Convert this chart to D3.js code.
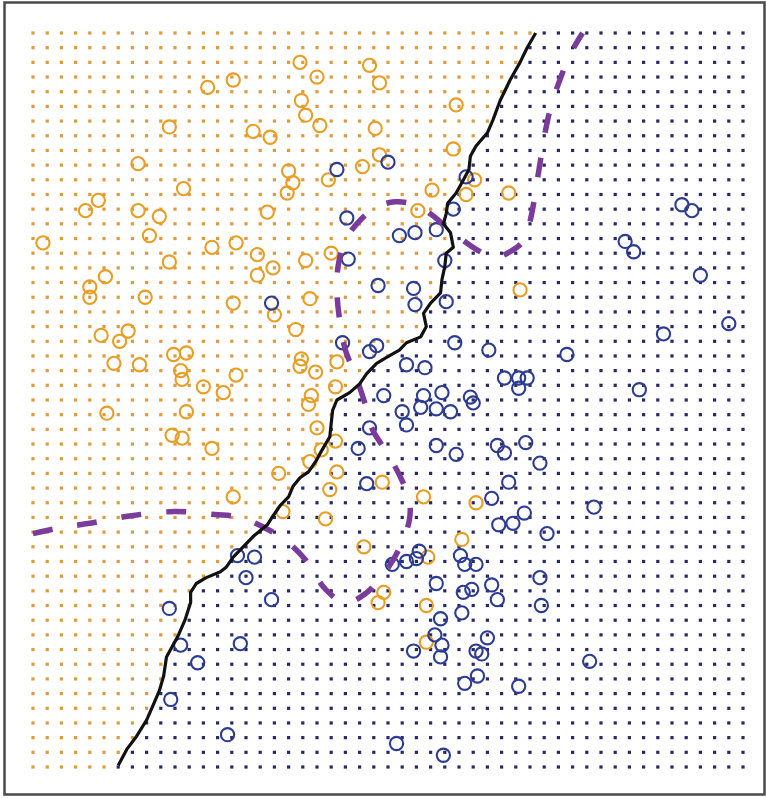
<!DOCTYPE html>
<html>
<head>
<meta charset="utf-8">
<script src="https://cdn.jsdelivr.net/npm/d3@7"></script>
<style>
  html, body { margin: 0; padding: 0; background: #fff; }
  svg { display: block; }
</style>
</head>
<body>
<svg id="chart" width="766" height="798"></svg>
<script>
// grid of evaluation points (grid units 0..50 on both axes)
const gridX = d3.range(0, 51);
const gridY = d3.range(0, 51);

// training points, class orange
const orangePts = [
  [12.3,46.3],[14.1,46.8],[9.6,43.6],[15.5,43.3],[16.7,42.9],[7.4,41.1],[10.6,39.4],[4.6,38.6],
  [3.7,37.9],[7.4,37.9],[8.9,37.5],[8.2,36.2],[16.5,37.8],[0.7,35.7],[12.6,35.4],[14.3,35.7],
  [15.8,34.9],[9.6,34.4],[15.8,33.5],[16.9,34.0],[5.1,33.4],[4.0,32.7],[4.0,32.0],[7.9,32.0],
  [14.1,31.6],[4.8,29.4],[6.7,29.7],[6.1,29.0],[5.7,27.5],[7.5,27.4],[9.9,28.1],[10.8,28.2],
  [10.4,27.0],[10.5,26.4],[14.3,26.7],[12.0,25.9],[13.4,25.5],[18.8,48.0],[20.0,47.0],[23.7,47.8],
  [24.4,46.6],[18.9,45.4],[19.2,44.4],[20.2,43.7],[24.1,43.5],[29.8,45.1],[29.6,42.1],[24.4,41.7],
  [23.2,40.9],[18.0,40.6],[18.3,39.8],[17.9,39.1],[20.8,40.0],[31.1,40.0],[30.5,39.0],[28.1,39.3],
  [33.5,39.1],[27.1,37.9],[21.0,35.0],[19.2,34.5],[19.5,31.9],[17.0,30.8],[18.5,29.8],[18.9,27.8],
  [18.8,27.3],[19.9,26.9],[21.4,27.6],[21.3,25.9],[19.6,25.3],[34.3,32.5],[5.2,24.1],[10.8,24.2],
  [9.8,22.6],[10.5,22.4],[12.6,21.7],[14.1,18.4],[19.4,24.7],[20.0,23.1],[21.3,22.2],[20.3,21.6],
  [19.5,20.8],[17.3,20.0],[21.4,20.1],[20.9,18.9],[20.6,16.9],[17.6,17.4],[24.6,19.4],[27.5,18.4],
  [23.3,15.0],[27.8,14.3],[30.2,15.5],[31.2,18.0],[24.7,11.9],[24.3,11.2],[27.7,11.0],[27.7,8.5]
];

// training points, class blue
const bluePts = [
  [21.4,40.7],[25.0,41.2],[22.1,37.4],[25.8,36.2],[26.9,36.4],[28.4,36.6],[29.6,38.0],[30.5,40.2],
  [22.2,34.6],[29.0,34.5],[24.3,32.8],[26.8,32.6],[26.9,31.5],[29.1,31.7],[16.8,31.6],[21.8,28.9],
  [23.7,28.3],[24.2,28.7],[26.3,27.4],[27.6,27.2],[29.7,28.9],[32.1,28.4],[33.2,26.5],[24.7,25.3],
  [27.5,25.3],[28.8,25.5],[30.8,25.2],[45.7,38.3],[46.4,37.9],[41.7,35.8],[42.3,35.1],[47.0,33.5],
  [49.0,30.2],[44.4,29.5],[37.6,28.1],[34.2,26.5],[34.8,26.5],[34.2,25.8],[42.7,25.7],[9.6,10.8],
  [14.4,14.4],[15.6,14.3],[15.0,12.9],[10.4,8.3],[14.6,8.4],[11.6,7.1],[9.7,4.6],[13.7,2.2],
  [16.8,11.4],[26.0,24.2],[26.3,23.3],[27.3,24.5],[28.4,24.4],[29.4,24.2],[31.0,24.8],[23.7,23.1],
  [22.9,21.7],[28.4,21.9],[29.8,21.3],[32.7,21.9],[23.5,19.3],[32.3,18.3],[32.8,16.5],[26.3,14.0],
  [27.0,14.2],[27.2,14.7],[25.3,13.8],[30.1,14.4],[30.4,13.8],[31.2,13.8],[28.4,12.5],[30.3,11.9],
  [30.9,12.1],[32.3,12.4],[32.7,11.4],[28.7,10.1],[30.2,10.5],[28.3,9.0],[28.8,8.3],[28.7,7.5],
  [26.8,7.9],[31.2,7.9],[31.6,7.7],[32.0,8.8],[30.4,5.7],[31.3,6.2],[25.6,1.6],[28.9,0.8],
  [34.7,22.1],[33.2,21.4],[35.7,20.7],[33.5,19.4],[39.5,17.7],[34.6,17.3],[33.8,16.6],[36.2,15.9],
  [35.7,12.9],[35.8,11.0],[39.2,7.2],[34.2,5.5]
];

// nearest-neighbour decision boundary (top to bottom)
const knnBoundary = [
  [35.4,50],[34.8,49.0],[34.3,48.0],[33.6,46.8],[32.9,45.4],[32.4,44.1],[32.0,43.2],[31.2,42.3],
  [30.8,41.6],[30.7,40.7],[30.2,39.8],[29.8,39.1],[29.2,38.4],[29.1,37.7],[28.9,37.0],[29.4,36.4],
  [29.6,35.4],[29.1,35.0],[29.0,34.1],[28.8,33.2],[28.7,32.3],[28.0,31.6],[27.5,30.9],[27.7,30.0],
  [27.3,29.3],[26.3,28.9],[25.8,28.4],[24.9,27.9],[24.2,27.5],[23.5,26.8],[23.0,26.1],[22.3,25.5],
  [21.4,25.0],[21.1,24.3],[21.0,23.4],[20.9,22.5],[20.3,21.5],[19.9,20.8],[19.4,20.1],[18.8,19.7],
  [18.3,19.1],[18.0,18.4],[17.4,17.8],[16.9,17.1],[16.5,16.5],[15.5,15.7],[14.8,15.0],[14.1,14.3],
  [13.6,13.6],[13.2,13.3],[12.2,12.9],[11.5,12.5],[11.1,11.9],[11.1,11.2],[10.7,10.0],[10.2,8.9],
  [9.4,7.5],[9.2,6.2],[8.9,5.2],[8.5,4.3],[8.0,3.2],[7.3,2.1],[6.6,1.2],[6.0,0.1]
];

// Bayes decision boundary
const bayesBoundary = [
  [0,15.9],[1.9,16.3],[4.0,16.6],[6.8,17.1],[10.0,17.4],[12.8,17.2],[14.6,17.0],[16.3,16.3],
  [17.7,15.5],[19.2,14.1],[20.6,12.1],[22.0,11.2],[23.4,11.8],[24.8,13.3],[25.8,14.9],[26.5,16.8],
  [26.5,18.2],[25.8,19.9],[24.8,21.6],[23.9,23.0],[23.4,24.7],[22.7,26.7],[22.0,28.4],[21.6,30.4],
  [21.4,32.5],[21.5,34.2],[22.0,35.9],[22.9,37.1],[24.1,38.1],[25.5,38.5],[26.9,38.3],[28.1,37.6],
  [29.2,36.7],[30.4,35.8],[31.5,35.1],[32.5,34.7],[33.6,35.1],[34.6,35.9],[35.1,37.6],[35.4,39.3],
  [35.7,41.1],[36.1,43.4],[36.5,45.1],[37.1,46.8],[37.8,48.5],[38.7,50]
];

const ORANGE = '#e99d22';
const ORANGE_DOT = '#e09a3c';
const BLUE = '#2c3c94';
const BLUE_DOT = '#282866';
const PURPLE = '#7a3b9a';

const svg = d3.select('#chart');

const x = d3.scaleLinear().domain([0, 50]).range([33, 743]);
const y = d3.scaleLinear().domain([0, 50]).range([767, 33]);

// frame
svg.append('rect')
  .attr('x', 4.5).attr('y', 2.5)
  .attr('width', 760).attr('height', 792)
  .attr('fill', 'none')
  .attr('stroke', '#4a4a4a')
  .attr('stroke-width', 2.5);

// boundary x at a given grid row
function boundaryAt(gy) {
  for (let i = 0; i < knnBoundary.length - 1; i++) {
    const [x0, y0] = knnBoundary[i], [x1, y1] = knnBoundary[i + 1];
    if (gy <= y0 && gy >= y1) {
      const t = y0 === y1 ? 0 : (y0 - gy) / (y0 - y1);
      return x0 + t * (x1 - x0);
    }
  }
  return gy > knnBoundary[0][1] ? knnBoundary[0][0] : knnBoundary[knnBoundary.length - 1][0];
}

const grid = [];
gridY.forEach(gy => {
  const bx = boundaryAt(gy);
  gridX.forEach(gx => grid.push({ gx, gy, cls: gx < bx ? 0 : 1 }));
});

svg.append('g')
  .selectAll('rect')
  .data(grid)
  .join('rect')
  .attr('x', d => x(d.gx) - 1.6)
  .attr('y', d => y(d.gy) - 1.6)
  .attr('width', 3.2)
  .attr('height', 3.2)
  .attr('fill', d => d.cls === 0 ? ORANGE_DOT : BLUE_DOT);

// training points
svg.append('g')
  .attr('fill', 'none')
  .attr('stroke', ORANGE)
  .attr('stroke-width', 2.1)
  .selectAll('circle')
  .data(orangePts)
  .join('circle')
  .attr('cx', d => x(d[0]))
  .attr('cy', d => y(d[1]))
  .attr('r', 6.6);

svg.append('g')
  .attr('fill', 'none')
  .attr('stroke', BLUE)
  .attr('stroke-width', 2.1)
  .selectAll('circle')
  .data(bluePts)
  .join('circle')
  .attr('cx', d => x(d[0]))
  .attr('cy', d => y(d[1]))
  .attr('r', 6.6);

// Bayes boundary (dashed)
const smooth = d3.line()
  .x(d => x(d[0]))
  .y(d => y(d[1]))
  .curve(d3.curveCatmullRom.alpha(0.5));

svg.append('path')
  .datum(bayesBoundary)
  .attr('d', smooth)
  .attr('fill', 'none')
  .attr('stroke', PURPLE)
  .attr('stroke-width', 5.5)
  .attr('stroke-dasharray', '20,25');

// KNN boundary
const jagged = d3.line()
  .x(d => x(d[0]))
  .y(d => y(d[1]));

svg.append('path')
  .datum(knnBoundary)
  .attr('d', jagged)
  .attr('fill', 'none')
  .attr('stroke', '#111')
  .attr('stroke-width', 3.2)
  .attr('stroke-linejoin', 'round');
</script>
</body>
</html>
